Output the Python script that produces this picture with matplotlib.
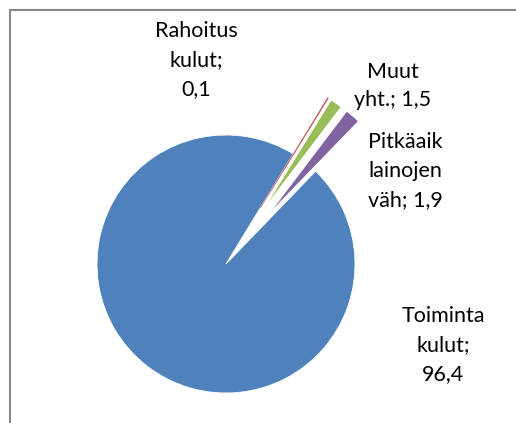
"""
Pie chart of expense shares (Excel-style, small slices exploded).
"""
import matplotlib
matplotlib.use('Agg')
import matplotlib.pyplot as plt
from matplotlib.lines import Line2D

# Data
categories = ['Toiminta kulut', 'Rahoitus kulut', 'Muut yht.', 'Pitkäaik lainojen väh']
values = [96.4, 0.1, 1.5, 1.9]
colors = ['#4F81BD', '#C0504D', '#9BBB59', '#8064A2']


def fmt(v):
    return f'{v:.1f}'.replace('.', ',')


label_texts = [
    f'Toiminta\nkulut;\n{fmt(values[0])}',
    f'Rahoitus\nkulut;\n{fmt(values[1])}',
    f'Muut\nyht.; {fmt(values[2])}',
    f'Pitkäaik\nlainojen\nväh; {fmt(values[3])}',
]

# Layout (pixel units, origin bottom-left)
W, H = 516, 423
center = (226, H - 264)
radius = 129
explode_frac = [0.0, 0.51, 0.51, 0.51]
label_pos = [(443, H - 345), (196, H - 60), (393, H - 86), (405, H - 171)]

fig = plt.figure(figsize=(W / 100, H / 100), dpi=100)
fig.patch.set_facecolor('white')
ax = fig.add_axes([0, 0, 1, 1])

wedges, _ = ax.pie(values, colors=colors, startangle=46, counterclock=False,
                   center=center, radius=radius,
                   explode=[e * radius for e in explode_frac],
                   wedgeprops=dict(edgecolor='white', linewidth=0.6))
# the tiny slice would vanish under a white edge, outline it in its own colour
wedges[1].set_edgecolor(colors[1])
wedges[1].set_linewidth(0.4)

for txt, (x, y) in zip(label_texts, label_pos):
    ax.text(x, y, txt, ha='center', va='center', fontsize=15.5,
            family=['Lato', 'DejaVu Sans'], color='black', linespacing=1.55)

ax.set_xlim(0, W)
ax.set_ylim(0, H)
ax.set_aspect('equal')
ax.axis('off')

# chart area border (runs off the right and bottom edges)
bx, by = 10 / W, 1 - 10 / H
fig.add_artist(Line2D([bx, 1.0], [by, by], transform=fig.transFigure,
                      color='#898989', linewidth=1.5))
fig.add_artist(Line2D([bx, bx], [0.0, by], transform=fig.transFigure,
                      color='#898989', linewidth=1.5))

fig.savefig('out.png', dpi=100, facecolor='white')
